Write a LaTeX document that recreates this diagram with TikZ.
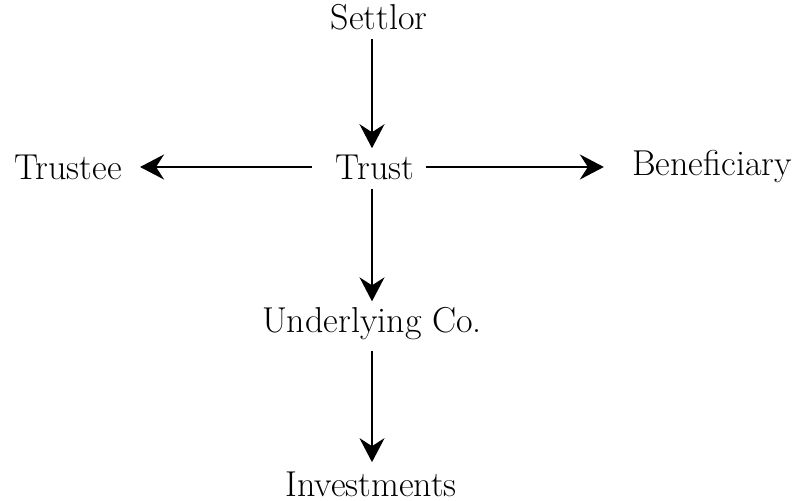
\documentclass[tikz,border=0pt]{standalone}
\usetikzlibrary{arrows.meta}

\begin{document}
\begin{tikzpicture}[x=0.5pt,y=-0.5pt,
  party/.style={inner xsep=6pt, inner ysep=3pt, font=\fontsize{18}{21}\selectfont},
  owns/.style={line width=1pt, -{Stealth[length=12pt,width=12.5pt,inset=4pt]}}]
\useasboundingbox (0,0) rectangle (796,501);
\node[party] (settlor) at (379,17) {Settlor};
\node[party] (trust) at (375,167) {Trust};
\node[party] (trustee) at (68,167) {Trustee};
\node[party] (benef) at (712,167) {Beneficiary};
\node[party] (uco) at (372,324) {Underlying Co.};
\node[party] (invest) at (371,484) {Investments};

\draw[owns, shorten <=1.5pt] (settlor.south -| uco) -- (trust.north -| uco);
\draw[owns, shorten <=6pt, shorten >=3pt] (trust.west) -- (trustee.east);
\draw[owns, shorten >=8pt] (trust.east) -- (benef.west);
\draw[owns, shorten <=1.5pt] (trust.south -| uco) -- (uco.north);
\draw[owns, shorten <=2pt, shorten >=1.5pt] (uco.south) -- (invest.north -| uco);
\end{tikzpicture}
\end{document}
